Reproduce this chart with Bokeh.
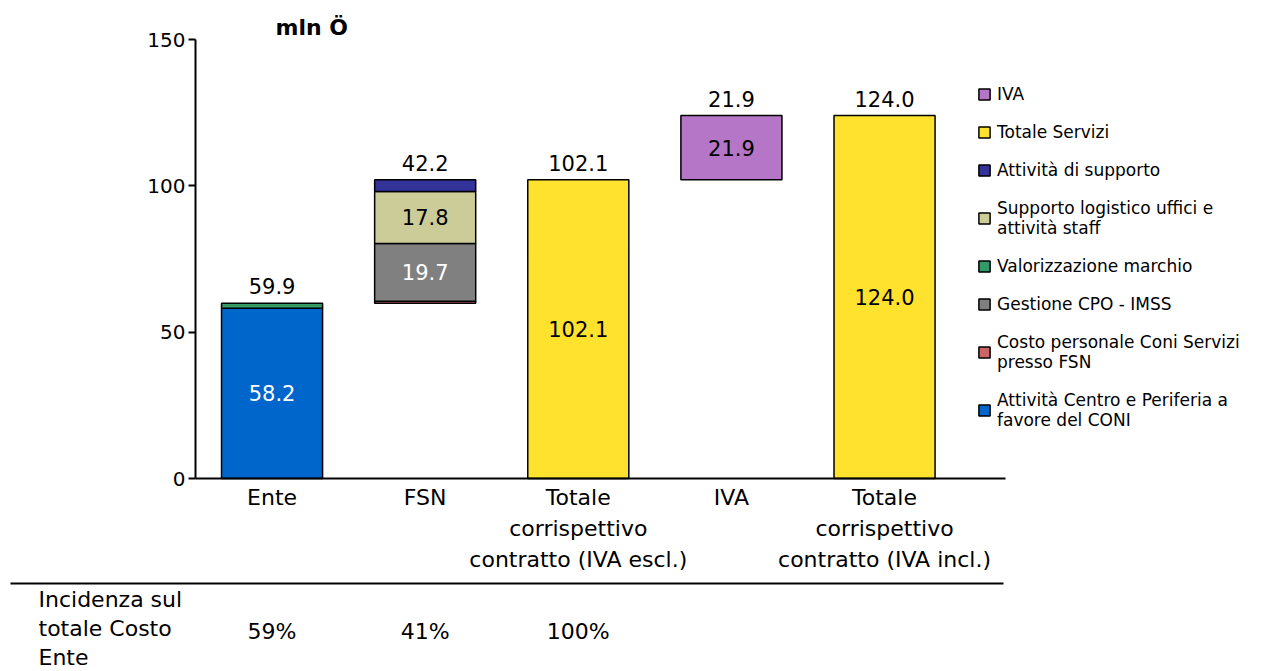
from bokeh.plotting import figure
from bokeh.models import Range1d, Legend, LegendItem, ColumnDataSource, FixedTicker
from bokeh.embed import file_html
from bokeh.resources import INLINE
from bokeh.core.properties import value

# ---------------- data ----------------
categories = ["Ente", "FSN", "Totale\ncorrispettivo\ncontratto (IVA escl.)", "IVA",
              "Totale\ncorrispettivo\ncontratto (IVA incl.)"]
attivita_centro = [58.2, 0, 0, 0, 0]
valorizzazione_marchio = [1.7, 0, 0, 0, 0]
costo_personale = [0, 0.7, 0, 0, 0]
gestione_cpo = [0, 19.7, 0, 0, 0]
supporto_logistico = [0, 17.8, 0, 0, 0]
attivita_supporto = [0, 4.0, 0, 0, 0]
totale_servizi = [0, 0, 102.1, 0, 124.0]
iva = [0, 0, 0, 21.9, 0]
# waterfall: column whose total is used as floating base (None = starts at 0)
base_from = [None, 0, None, 2, None]
incidenza_label = "Incidenza sul\ntotale Costo\nEnte"
incidenza = ["59%", "41%", "100%"]
y_ticks = [0, 50, 100, 150]
unit_label = "mln Ö"

FONT = "DejaVu Sans"

# stack order bottom -> top: (name, values, color, inner label color or None)
series = [
    ("Attività Centro e Periferia a\nfavore del CONI", attivita_centro, "#0066CC", "white"),
    ("Valorizzazione marchio", valorizzazione_marchio, "#339966", None),
    ("Costo personale Coni Servizi\npresso FSN", costo_personale, "#CC6666", None),
    ("Gestione CPO - IMSS", gestione_cpo, "#808080", "white"),
    ("Supporto logistico uffici e\nattività staff", supporto_logistico, "#CCCC99", "black"),
    ("Attività di supporto", attivita_supporto, "#333399", None),
    ("Totale Servizi", totale_servizi, "#FFE22E", "black"),
    ("IVA", iva, "#B576C8", "black"),
]
legend_order = ["IVA", "Totale Servizi", "Attività di supporto",
                "Supporto logistico uffici e\nattività staff", "Valorizzazione marchio",
                "Gestione CPO - IMSS", "Costo personale Coni Servizi\npresso FSN",
                "Attività Centro e Periferia a\nfavore del CONI"]

n = len(categories)
xs = list(range(n))
totals = [sum(s[1][i] for s in series) for i in xs]
bases = [0 if b is None else totals[b] for b in base_from]

# ---------------- layout (page pixels) ----------------
W, H = 1263, 671
PAGE_X0, PAGE_Y0 = 0, 0
AX_LEFT, AX_RIGHT = 195, 1005
AX_TOP, AX_BOTTOM = 39, 478
X0, X1 = -0.5, 4.79
Y0, Y1 = 0, 150
SX = (AX_RIGHT - AX_LEFT) / (X1 - X0)
SY = (AX_BOTTOM - AX_TOP) / (Y1 - Y0)


def dx(px):
    return X0 + (px - AX_LEFT) / SX


def dy(py):
    return Y0 + (AX_BOTTOM - py) / SY


p = figure(width=W, height=H, output_backend="svg", toolbar_location=None,
           x_range=Range1d(dx(PAGE_X0), dx(PAGE_X0 + W)),
           y_range=Range1d(dy(PAGE_Y0 + H), dy(PAGE_Y0)),
           min_border_left=0, min_border_right=0, min_border_top=0, min_border_bottom=0)
p.outline_line_color = None
p.xgrid.grid_line_color = None
p.ygrid.grid_line_color = None
p.background_fill_color = "white"

running = list(bases)
renderers = {}
for name, vals, color, lab_color in series:
    idx = [i for i in xs if vals[i] > 0]
    bottoms = [running[i] for i in idx]
    tops = [running[i] + vals[i] for i in idx]
    src = ColumnDataSource(dict(x=idx, bottom=bottoms, top=tops,
                                mid=[(b + t) / 2 for b, t in zip(bottoms, tops)],
                                lab=["%.1f" % vals[i] for i in idx]))
    r = p.vbar(x="x", width=0.66, bottom="bottom", top="top", source=src,
               fill_color=color, line_color="black", line_width=1.5)
    renderers[name] = r
    if lab_color is not None:
        p.text(x="x", y="mid", text="lab", source=src, text_align="center",
               text_baseline="middle", text_font=value(FONT), text_font_size="21px",
               text_color=lab_color)
    for i in idx:
        running[i] += vals[i]

# totals above bars
tot_src = ColumnDataSource(dict(x=xs, y=[bases[i] + totals[i] for i in xs],
                                lab=["%.1f" % totals[i] for i in xs]))
p.text(x="x", y="y", text="lab", source=tot_src, text_align="center",
       text_baseline="bottom", y_offset=-9, text_font=value(FONT),
       text_font_size="21px", text_color="black")

# axes (placed inside the frame)
p.yaxis.fixed_location = X0
p.yaxis.bounds = (Y0, Y1)
p.yaxis.ticker = FixedTicker(ticks=y_ticks)
p.yaxis.minor_tick_line_color = None
p.yaxis.major_tick_in = 0
p.yaxis.major_tick_out = 7
p.yaxis.major_tick_line_width = 2
p.yaxis.axis_line_width = 2
p.yaxis.axis_line_color = "black"
p.yaxis.major_label_text_font = FONT
p.yaxis.major_label_text_font_size = "20px"
p.yaxis.major_label_text_color = "black"
p.yaxis.major_label_standoff = 3

p.xaxis.fixed_location = Y0
p.xaxis.bounds = (X0, X1)
p.xaxis.ticker = FixedTicker(ticks=xs)
p.xaxis.major_label_overrides = {i: c for i, c in zip(xs, categories)}
p.xaxis.major_tick_line_color = None
p.xaxis.minor_tick_line_color = None
p.xaxis.axis_line_width = 2
p.xaxis.axis_line_color = "black"
p.xaxis.major_label_text_font = FONT
p.xaxis.major_label_text_font_size = "22px"
p.xaxis.major_label_text_color = "black"
p.xaxis.major_label_text_line_height = 1.25
p.xaxis.major_label_standoff = 0

# unit label
p.text(x=[dx(275)], y=[dy(27)], text=[unit_label], text_font=value(FONT),
       text_font_style="bold", text_font_size="22px", text_baseline="middle",
       text_color="black")

# legend
items = [LegendItem(label=nm, renderers=[renderers[nm]]) for nm in legend_order]
legend = Legend(items=items, location=(977 - PAGE_X0, PAGE_Y0 + H - 430), padding=0, margin=0,
                border_line_color=None, background_fill_alpha=0,
                label_text_font=FONT, label_text_font_size="17px", label_text_color="black",
                label_standoff=6, glyph_width=14, glyph_height=14, spacing=18,
                label_height=20)
p.add_layout(legend, "center")

# bottom table
p.segment(x0=[dx(10)], x1=[dx(1003)], y0=[dy(583)], y1=[dy(583)],
          line_color="black", line_width=2)
p.text(x=xs[:len(incidenza)], y=[dy(631)] * len(incidenza), text=incidenza,
       text_align="center", text_baseline="middle", text_font=value(FONT),
       text_font_size="22px", text_color="black")
p.text(x=[dx(38)], y=[dy(628)], text=[incidenza_label], text_align="left",
       text_baseline="middle", text_font=value(FONT), text_font_size="22px",
       text_line_height=1.15, text_color="black")

open("out.html", "w").write(file_html(p, INLINE))
